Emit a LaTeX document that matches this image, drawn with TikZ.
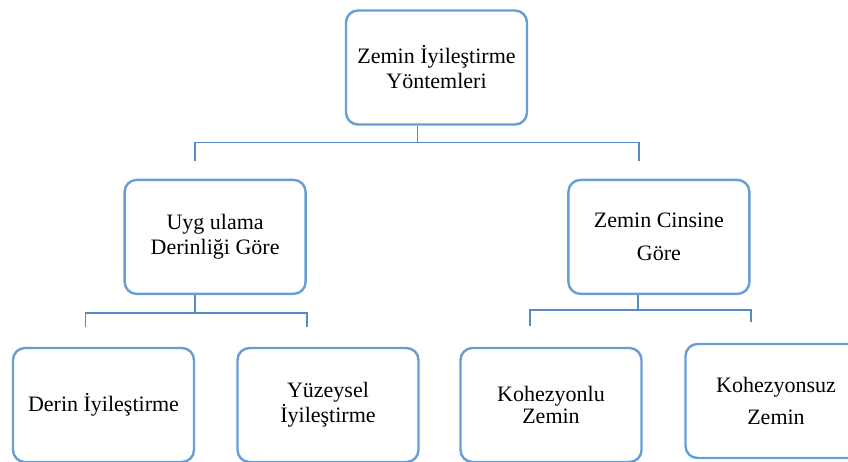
\documentclass[tikz,border=0pt]{standalone}
\usepackage{fontspec}
\setmainfont{Liberation Serif}
\usetikzlibrary{positioning, calc}
\definecolor{boxblue}{RGB}{104,158,214}
\definecolor{lineblue}{RGB}{88,138,196}
\tikzstyle{block} = [rectangle, draw=boxblue, line width=2.4pt, rounded corners=12pt, text centered, align=center, minimum width=181pt, minimum height=114pt, fill=white, font=\fontsize{22}{25}\selectfont]
\tikzstyle{link} = [draw=lineblue, line width=1.6pt]

\begin{document}
\begin{tikzpicture}[x=1pt, y=1pt]

	\useasboundingbox (0,0) rectangle (848,461);
	\clip (0,0) rectangle (848,461);

	% Root
	\node (root) [block] at (436.5,393.5) {Zemin İyileştirme\\Yöntemleri};

	% Second level
	\node (depth) [block, below left=53pt and 38pt of root] {Uyg ulama\\Derinliği Göre};
	\node (soil) [block, below right=53pt and 39pt of root] {Zemin Cinsine\\[8pt]Göre};

	% Leaves
	\node (deep) [block] at (103.5,56) {Derin İyileştirme};
	\node (surface) [block] at (328,56) {Yüzeysel\\İyileştirme};
	\node (cohesive) [block] at (551,56) {Kohezyonlu\\[-3pt]Zemin};
	\node (noncohesive) [block] at (776,60) {Kohezyonsuz\\[7pt]Zemin};

	% Links - root
	\draw[link] ([xshift=-19pt]root.south) -- ++(0,-17pt) coordinate (j0);
	\draw[link] ([xshift=-20pt,yshift=18pt]depth.north) |- (j0) -| ([xshift=-20pt,yshift=18pt]soil.north);

	% Links - depth
	\draw[link] ([xshift=-20pt]depth.south) -- ++(0,-18pt) coordinate (j1);
	\draw[link] ([xshift=-18pt,yshift=20pt]deep.north) |- (j1) -| ([xshift=-21pt,yshift=20pt]surface.north);

	% Links - soil
	\draw[link] ([xshift=-21pt]soil.south) -- ++(0,-15pt) coordinate (j2);
	\draw[link] ([xshift=-21pt,yshift=21pt]cohesive.north) |- (j2) -| ([xshift=-25pt,yshift=21pt]noncohesive.north);

\end{tikzpicture}
\end{document}
